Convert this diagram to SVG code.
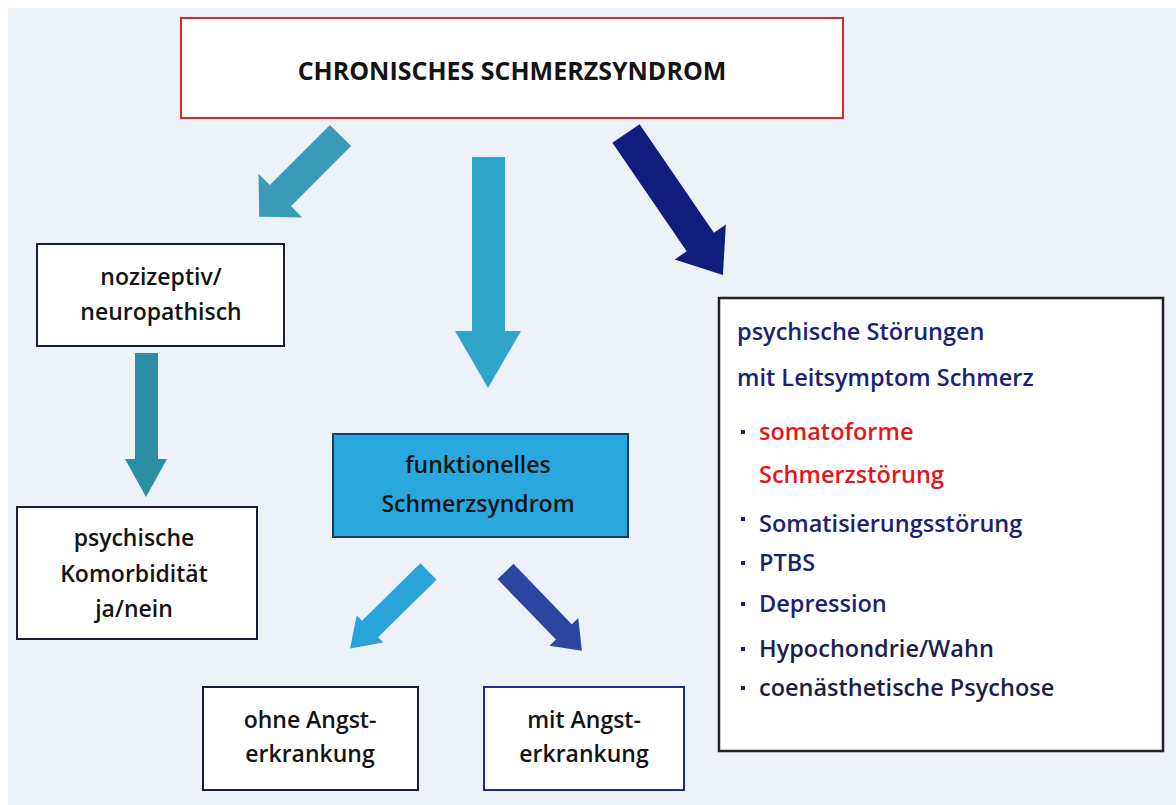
<svg xmlns="http://www.w3.org/2000/svg" width="1176" height="805" viewBox="0 0 1176 805">
<style>
.box{fill:#ffffff;stroke:#1b1b3c;stroke-width:2}
.t{font-family:"Open Sans","Liberation Sans",sans-serif;font-size:23px;font-weight:600;fill:#141414;text-anchor:middle}
.r{font-family:"Open Sans","Liberation Sans",sans-serif;font-size:23.5px;font-weight:600;fill:#1c2272}
.red{fill:#e8141c}
.dk{fill:#1e1e48}
.bul{fill:#1c2060}
</style>
<rect x="0" y="0" width="1176" height="805" fill="#ffffff"/>
<rect x="8" y="8" width="1168" height="797" fill="#edf1f8"/>

<g id="connectors">
  <polygon fill="#3a9db5" transform="translate(340.5,135.5) rotate(135)" points="0,-15 85,-15 85,-31 115,0 85,31 85,15 0,15"/>
  <polygon fill="#2fa4c9" points="472,157 505,157 505,331 521,331 488,388 455,331 472,331"/>
  <polygon fill="#0f1d7c" transform="translate(626,133.5) rotate(55.6)" points="0,-16.5 131.5,-16.5 131.5,-31 171.5,0 131.5,31 131.5,16.5 0,16.5"/>
  <polygon fill="#2b8ea3" points="135,353 158,353 158,459 167,459 146,497 125,459 135,459"/>
  <polygon fill="#2aa4d8" transform="translate(428.5,571.5) rotate(135.5)" points="0,-11.5 82,-11.5 82,-19 110,0 82,19 82,11.5 0,11.5"/>
  <polygon fill="#2b45a0" transform="translate(505.5,571.5) rotate(46)" points="0,-11 84,-11 84,-20 110,0 84,20 84,11 0,11"/>
</g>

<g id="chronisch">
  <rect x="181" y="18" width="662" height="100" fill="#ffffff" stroke="#e3232c" stroke-width="2"/>
  <text class="t" x="512" y="80" style="font-size:25px;font-weight:700">CHRONISCHES SCHMERZSYNDROM</text>
</g>

<g id="nozizeptiv">
  <rect class="box" x="37" y="244" width="247" height="102"/>
  <text class="t" x="161" y="285">nozizeptiv/</text>
  <text class="t" x="161" y="320">neuropathisch</text>
</g>

<g id="komorbiditaet">
  <rect class="box" x="17" y="507" width="240" height="132"/>
  <text class="t" x="134" y="546">psychische</text>
  <text class="t" x="134" y="582">Komorbidität</text>
  <text class="t" x="134" y="617">ja/nein</text>
</g>

<g id="funktionell">
  <rect x="333" y="434" width="295" height="103" fill="#2aa8de" stroke="#1d3d5c" stroke-width="2"/>
  <text class="t" x="478" y="473">funktionelles</text>
  <text class="t" x="478" y="512">Schmerzsyndrom</text>
</g>

<g id="ohneAngst">
  <rect class="box" x="203" y="687" width="215" height="103"/>
  <text class="t" x="310" y="728">ohne Angst-</text>
  <text class="t" x="310" y="762">erkrankung</text>
</g>

<g id="mitAngst">
  <rect class="box" x="484" y="687" width="200" height="103" style="stroke:#1f2a8c"/>
  <text class="t" x="584" y="728">mit Angst-</text>
  <text class="t" x="584" y="762">erkrankung</text>
</g>

<g id="psychischeStoerungen">
  <rect x="719" y="298" width="444" height="453" fill="#ffffff" stroke="#222222" stroke-width="2.5"/>
  <text class="r" x="737" y="340">psychische Störungen</text>
  <text class="r" x="737" y="386">mit Leitsymptom Schmerz</text>
  <rect class="bul" x="741" y="430" width="4" height="4"/>
  <text class="r red" x="759" y="440">somatoforme</text>
  <text class="r red" x="759" y="483">Schmerzstörung</text>
  <rect class="bul" x="741" y="517" width="4" height="4"/>
  <text class="r" x="759" y="532">Somatisierungsstörung</text>
  <rect class="bul" x="741" y="561" width="4" height="4"/>
  <text class="r" x="759" y="571">PTBS</text>
  <rect class="bul" x="741" y="602" width="4" height="4"/>
  <text class="r" x="759" y="612">Depression</text>
  <rect class="bul" x="741" y="647" width="4" height="4"/>
  <text class="r dk" x="759" y="657">Hypochondrie/Wahn</text>
  <rect class="bul" x="741" y="686" width="4" height="4"/>
  <text class="r dk" x="759" y="696">coenästhetische Psychose</text>
</g>
</svg>
